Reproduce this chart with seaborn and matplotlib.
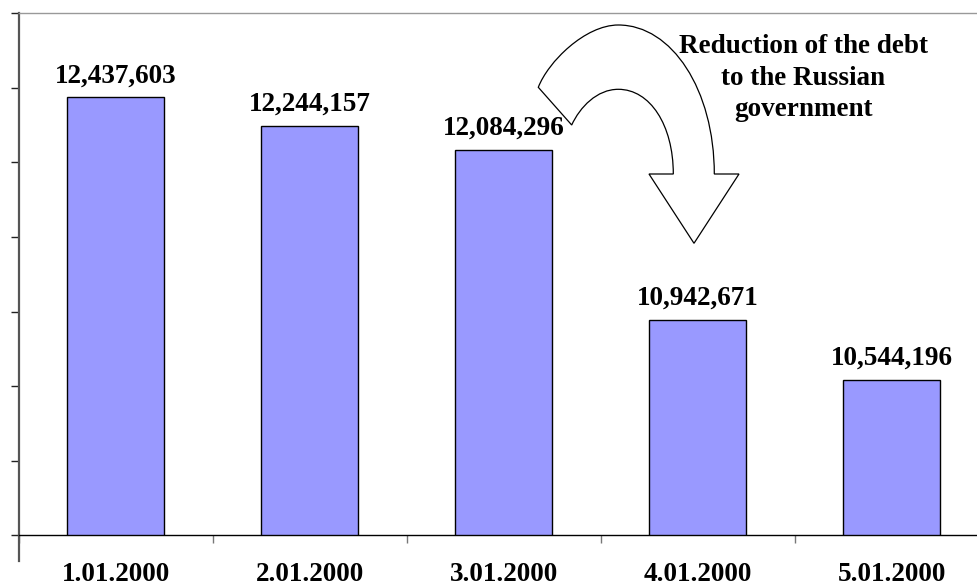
import matplotlib
matplotlib.use("Agg")
import matplotlib.pyplot as plt
import matplotlib.transforms as mtransforms
from matplotlib.path import Path
from matplotlib.patches import PathPatch
import numpy as np
import pandas as pd
import seaborn as sns

# ---- data ----
dates = ["1.01.2000", "2.01.2000", "3.01.2000", "4.01.2000", "5.01.2000"]
debt = [12437603, 12244157, 12084296, 10942671, 10544196]
annotation = "Reduction of the debt\nto the Russian\ngovernment"

W, H = 977, 587
sns.set_theme(style="white")
plt.rcParams["font.family"] = ["Liberation Serif", "DejaVu Serif"]

fig = plt.figure(figsize=(W / 100, H / 100), dpi=100)
ax = fig.add_axes([18.7 / W, 1 - 535.3 / H, 970 / W, 522 / H])

df = pd.DataFrame({"date": dates, "debt": debt})
sns.barplot(data=df, x="date", y="debt", color="#9999FF", saturation=1,
            edgecolor="black", linewidth=1.0, width=0.5, ax=ax)

ax.set_xlim(-0.5, len(dates) - 0.5)
ax.set_ylim(9.5e6, 13.0e6)
ax.set_yticks(np.arange(9.5e6, 13.0e6 + 1, 5e5))
ax.set_yticklabels([])
ax.set_xlabel("")
ax.set_ylabel("")

# ticks
ax.tick_params(axis="y", which="major", direction="out", length=6, width=1,
               color="#222222", left=True)
ax.set_xticks(np.arange(-0.5, len(dates), 1), minor=True)
ax.tick_params(axis="x", which="minor", direction="out", length=6, width=1,
               color="#777777", bottom=True)
ax.tick_params(axis="x", which="major", length=0, pad=19.5)
for lab in ax.get_xticklabels():
    lab.set_fontweight("bold")
    lab.set_fontsize(19.5)
    lab.set_color("black")

# spines
ax.spines["left"].set_color("#555555")
ax.spines["left"].set_linewidth(1.6)
ax.spines["left"].set_bounds(9.5e6 - 0.025e6 * 7, 13.0e6)
ax.spines["bottom"].set_color("black")
ax.spines["bottom"].set_linewidth(1.0)
ax.spines["top"].set_color("#999999")
ax.spines["top"].set_linewidth(1.0)
ax.spines["right"].set_visible(False)

# value labels
for i, v in enumerate(debt):
    ax.annotate(f"{v:,}", (i, v), xytext=(0, 10.8), textcoords="offset points",
                ha="center", va="baseline", fontsize=19.5, fontweight="bold",
                color="black")

# curved block arrow (pixel coordinates, y downward)
px = mtransforms.Affine2D().scale(1 / W, -1 / H).translate(0, 1) + fig.transFigure
verts = [
    (538.3, 87.3),
    (548, 62), (585, 25), (618.3, 25),
    (672, 25), (714.3, 90), (714.3, 174),
    (739, 174),
    (694, 243.3),
    (649, 174),
    (673.3, 174),
    (673.3, 125), (650, 89.3), (618.3, 89.3),
    (597, 89.3), (580, 107), (571.7, 125),
    (538.3, 87.3),
]
codes = [Path.MOVETO,
         Path.CURVE4, Path.CURVE4, Path.CURVE4,
         Path.CURVE4, Path.CURVE4, Path.CURVE4,
         Path.LINETO, Path.LINETO, Path.LINETO, Path.LINETO,
         Path.CURVE4, Path.CURVE4, Path.CURVE4,
         Path.CURVE4, Path.CURVE4, Path.CURVE4,
         Path.CLOSEPOLY]
patch = PathPatch(Path(verts, codes), facecolor="white", edgecolor="black",
                  linewidth=0.9, transform=px, zorder=5)
fig.add_artist(patch)

fig.text(803.3 / W, 1 - 34 / H, annotation, ha="center", va="top",
         fontsize=19.5, fontweight="bold", linespacing=1.35, color="black")

fig.savefig("out.png", dpi=100)
